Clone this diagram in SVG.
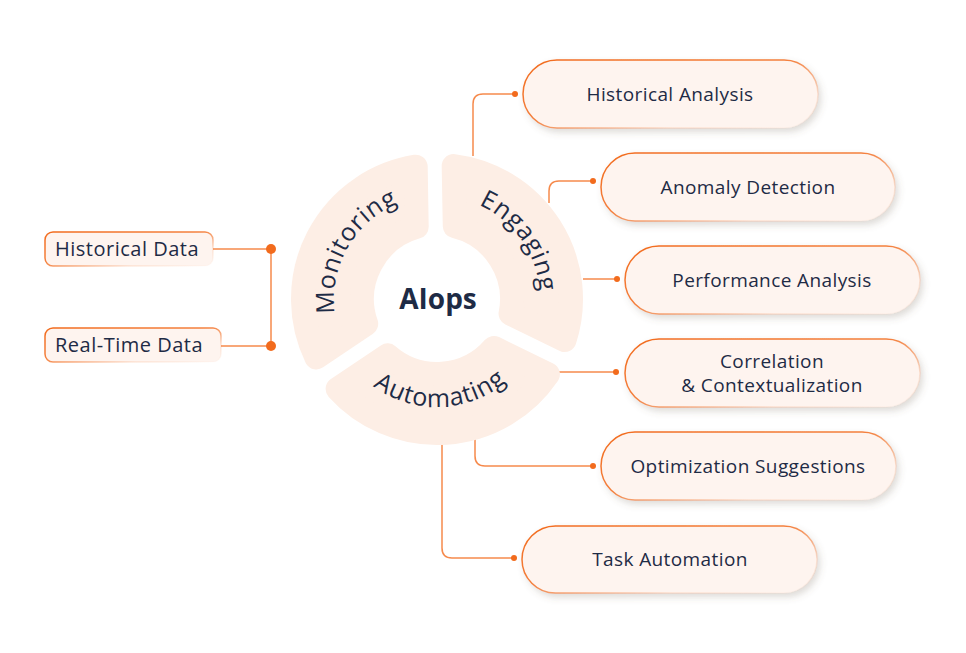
<svg xmlns="http://www.w3.org/2000/svg" width="966" height="653" viewBox="0 0 966 653">
<defs>
<linearGradient id="bord" x1="0" y1="0" x2="1" y2="1">
<stop offset="0" stop-color="#F26B1D" stop-opacity="1"/>
<stop offset="0.45" stop-color="#F26B1D" stop-opacity="0.85"/>
<stop offset="0.75" stop-color="#F26B1D" stop-opacity="0.15"/>
<stop offset="1" stop-color="#F26B1D" stop-opacity="0"/>
</linearGradient>
<filter id="sh" x="-10%" y="-20%" width="125%" height="160%">
<feDropShadow dx="3" dy="4" stdDeviation="3.5" flood-color="#6b5a50" flood-opacity="0.22"/>
</filter>
<path id="arcMon" d="M 347.80 350.50 A 103 103 0 0 1 437 196"/>
<path id="arcEng" d="M 428.02 196.39 A 103 103 0 0 1 530.35 342.53"/>
<path id="arcAut" d="M 345.42 356.23 A 108 108 0 0 0 532.36 349.70"/>
</defs>
<style>
.seg{fill:#FDEEE5;stroke:#FDEEE5;stroke-width:24;stroke-linejoin:round}
.pill{fill:#FEF4EF;stroke:url(#bord);stroke-width:1.5;filter:url(#sh)}
.box{fill:#FEF4EF;stroke:url(#bord);stroke-width:1.5}
.t{font-family:"Open Sans","Noto Sans",sans-serif;fill:#1E2B45}
.lbl{font-size:19px;letter-spacing:0.4px;text-anchor:middle}
.ll{font-size:20px;letter-spacing:0.5px}
.ring{font-size:25px;font-weight:500;letter-spacing:0.8px}
.ln{fill:none;stroke:#F68A4C;stroke-width:1.5}
.dot{fill:#F26B1D}
</style>
<rect width="966" height="653" fill="#ffffff"/>

<g id="connectors">
<path class="ln" d="M 213 249 H 271 V 346 H 221"/>
<circle class="dot" cx="271" cy="249" r="5"/>
<circle class="dot" cx="271" cy="346" r="5"/>
<path class="ln" d="M 515 94 H 483 Q 473 94 473 104 V 156"/>
<circle class="dot" cx="515" cy="94" r="3"/>
<path class="ln" d="M 593 181 H 559 Q 549 181 549 191 V 203"/>
<circle class="dot" cx="593" cy="181" r="3"/>
<path class="ln" d="M 583 279 H 617"/>
<circle class="dot" cx="617" cy="279" r="3"/>
<path class="ln" d="M 558 372 H 616"/>
<circle class="dot" cx="616" cy="372" r="3"/>
<path class="ln" d="M 475 436 V 456 Q 475 466 485 466 H 593"/>
<circle class="dot" cx="593" cy="466" r="3"/>
<path class="ln" d="M 442 442 V 548 Q 442 558 452 558 H 514"/>
<circle class="dot" cx="514" cy="558" r="3"/>
</g>

<g id="monitoring">
<path class="seg" d="M 316.40 357.42 A 134 134 0 0 1 415.69 166.70 L 416.70 226.80 A 75 75 0 0 0 366.21 323.79 Z"/>
<text class="t ring"><textPath href="#arcMon" startOffset="50%" text-anchor="middle">Monitoring</textPath></text>
</g>
<g id="engaging">
<path class="seg" d="M 453.68 166.04 A 134 134 0 0 1 564.55 340.08 L 510.55 313.70 A 75 75 0 0 0 454.76 226.13 Z"/>
<text class="t ring"><textPath href="#arcEng" startOffset="50%" text-anchor="middle">Engaging</textPath></text>
</g>
<g id="automating">
<path class="seg" d="M 547.90 374.21 A 134 134 0 0 1 337.61 388.89 L 387.50 355.35 A 75 75 0 0 0 493.86 347.91 Z"/>
<text class="t ring"><textPath href="#arcAut" startOffset="50%" text-anchor="middle">Automating</textPath></text>
</g>
<g id="aiops">
<text class="t" x="438" y="309" font-size="28" font-weight="700" text-anchor="middle">AIops</text>
</g>

<g id="historical-data">
<rect class="box" x="45" y="232" width="168" height="34" rx="8"/>
<text class="t ll" x="55" y="256">Historical Data</text>
</g>
<g id="real-time-data">
<rect class="box" x="45" y="328" width="176" height="34" rx="8"/>
<text class="t ll" x="55" y="352">Real-Time Data</text>
</g>

<g id="historical-analysis">
<rect class="pill" x="523" y="60" width="295" height="68" rx="34"/>
<text class="t lbl" x="670" y="101">Historical Analysis</text>
</g>
<g id="anomaly-detection">
<rect class="pill" x="601" y="153" width="294" height="68" rx="34"/>
<text class="t lbl" x="748" y="194">Anomaly Detection</text>
</g>
<g id="performance-analysis">
<rect class="pill" x="625" y="246" width="295" height="68" rx="34"/>
<text class="t lbl" x="772" y="287">Performance Analysis</text>
</g>
<g id="correlation">
<rect class="pill" x="625" y="339" width="295" height="68" rx="34"/>
<text class="t lbl" x="772" y="368">Correlation</text>
<text class="t lbl" x="772" y="392">&amp; Contextualization</text>
</g>
<g id="optimization-suggestions">
<rect class="pill" x="601" y="432" width="295" height="68" rx="34"/>
<text class="t lbl" x="748" y="473">Optimization Suggestions</text>
</g>
<g id="task-automation">
<rect class="pill" x="522" y="526" width="295" height="67" rx="33.5"/>
<text class="t lbl" x="670" y="566">Task Automation</text>
</g>
</svg>
